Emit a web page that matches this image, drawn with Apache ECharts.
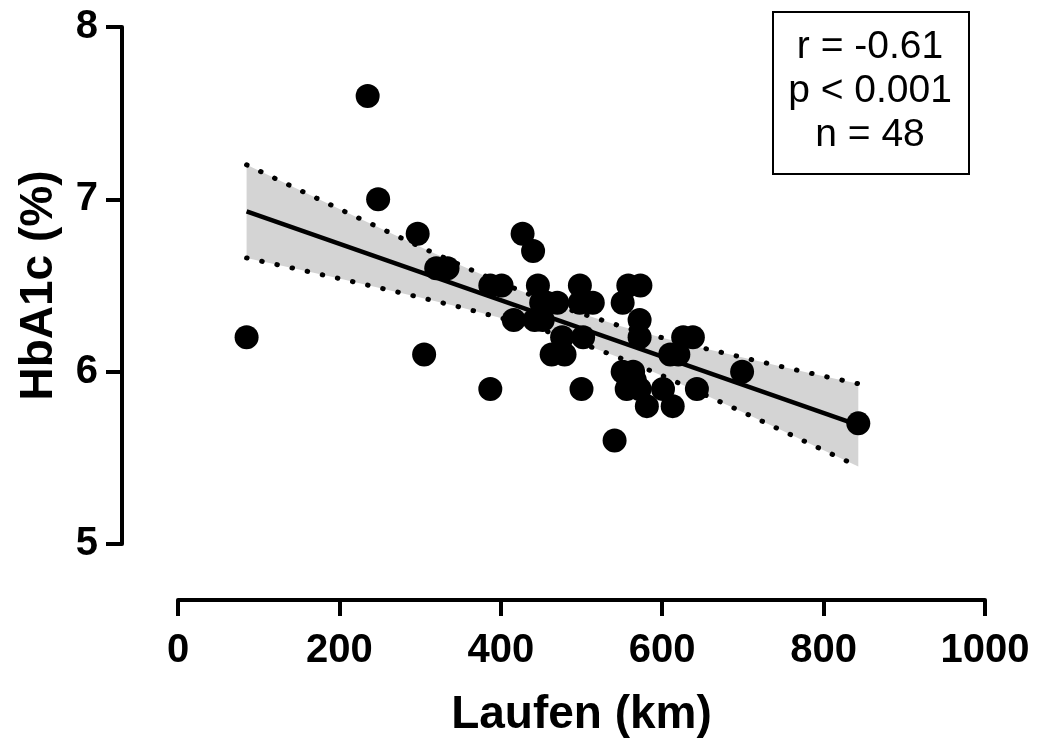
<!DOCTYPE html>
<html>

<head>
    <meta charset="UTF-8" />
    <script src="https://cdn.jsdelivr.net/npm/echarts@6/dist/echarts.min.js"></script>
</head>

<body style="margin: 0; overflow: hidden; background: #fff;">
    <div id="chart" style="width: 1038px; height: 749px;"></div>
    <script type="text/javascript">

        // Laufen (km) / HbA1c (%)
        const laufenKm = [85, 235, 248, 297, 305, 320, 334, 387, 387, 401, 416, 427, 440, 446, 442, 452,
            457, 470, 476, 463, 479, 498, 498, 514, 502, 500, 541, 558, 573, 551, 572, 572,
            551, 564, 556, 572, 581, 601, 613, 610, 620, 626, 638, 643, 699, 843, 450, 566];
        const hba1c = [6.2, 7.6, 7.0, 6.8, 6.1, 6.6, 6.6, 5.9, 6.5, 6.5, 6.3, 6.8, 6.7, 6.5, 6.3, 6.3,
            6.4, 6.4, 6.2, 6.1, 6.1, 6.5, 6.4, 6.4, 6.2, 5.9, 5.6, 6.5, 6.5, 6.4, 6.3, 6.2,
            6.0, 6.0, 5.9, 5.9, 5.8, 5.9, 5.8, 6.1, 6.1, 6.2, 6.2, 5.9, 6.0, 5.7, 6.4, 5.95];

        // regression line and 95% band
        const fitX = [85, 843];
        const fitY = [6.93, 5.69];
        const bandX = [85, 150, 200, 250, 300, 350, 400, 450, 489, 550, 600, 650, 700, 750, 800, 843];
        const bandUpper = [7.20, 7.055, 6.944, 6.834, 6.725, 6.618, 6.516, 6.421, 6.354, 6.262, 6.197, 6.138, 6.082, 6.027, 5.974, 5.93];
        const bandLower = [6.66, 6.593, 6.540, 6.486, 6.431, 6.374, 6.312, 6.245, 6.184, 6.076, 5.977, 5.872, 5.765, 5.655, 5.544, 5.45];

        const xTicks = [0, 200, 400, 600, 800, 1000];
        const yTicks = [5, 6, 7, 8];
        const statsLines = ['r = -0.61', 'p < 0.001', 'n = 48'];

        const font = "'Liberation Sans', Arial, sans-serif";

        const pairs = (xs, ys) => xs.map((x, i) => [x, ys[i]]);

        const myChart = echarts.init(document.getElementById('chart'));

        const axisCommon = {
            type: 'value',
            splitLine: { show: false },
            axisLine: { show: true, onZero: false, lineStyle: { color: '#000', width: 4 } },
            axisTick: { show: true, length: 16, lineStyle: { color: '#000', width: 4 } },
            nameLocation: 'middle',
            nameTextStyle: { color: '#000', fontSize: 46, fontWeight: 'bold', fontFamily: font }
        };

        const labelStyle = {
            color: '#000', fontSize: 40, fontWeight: 'bold', fontFamily: font,
            formatter: v => String(v)
        };

        const option = {
            animation: false,
            backgroundColor: '#fff',
            grid: { left: 178, top: 27, width: 807, height: 517 },
            xAxis: Object.assign({}, axisCommon, {
                min: xTicks[0],
                max: xTicks[xTicks.length - 1],
                interval: xTicks[1] - xTicks[0],
                offset: 56,
                name: 'Laufen (km)',
                nameGap: 92,
                axisLabel: Object.assign({}, labelStyle, { margin: 31 })
            }),
            yAxis: Object.assign({}, axisCommon, {
                min: yTicks[0],
                max: yTicks[yTicks.length - 1],
                interval: yTicks[1] - yTicks[0],
                offset: 56,
                name: 'HbA1c (%)',
                nameGap: 60,
                axisLabel: Object.assign({}, labelStyle, { margin: 24 })
            }),
            graphic: [
                {
                    type: 'rect',
                    left: 772, top: 11,
                    shape: { width: 196, height: 162 },
                    style: { fill: '#fff', stroke: '#000', lineWidth: 2 },
                    z: 10
                },
                {
                    type: 'text',
                    x: 870, y: 25,
                    style: {
                        text: statsLines.join('\n'),
                        textAlign: 'center',
                        fontSize: 39,
                        lineHeight: 44,
                        fontFamily: font,
                        fill: '#000'
                    },
                    z: 11
                }
            ],
            series: [
                {
                    // grey confidence band
                    type: 'custom',
                    z: 1,
                    silent: true,
                    data: [0],
                    renderItem: function (params, api) {
                        const pts = [];
                        bandX.forEach((x, i) => pts.push(api.coord([x, bandUpper[i]])));
                        for (let i = bandX.length - 1; i >= 0; i--) {
                            pts.push(api.coord([bandX[i], bandLower[i]]));
                        }
                        return {
                            type: 'polygon',
                            shape: { points: pts },
                            style: { fill: '#d4d4d4' }
                        };
                    }
                },
                {
                    type: 'line',
                    z: 2,
                    data: pairs(bandX, bandUpper),
                    showSymbol: false,
                    lineStyle: { color: '#000', width: 5, type: [0.5, 15], cap: 'round' }
                },
                {
                    type: 'line',
                    z: 2,
                    data: pairs(bandX, bandLower),
                    showSymbol: false,
                    lineStyle: { color: '#000', width: 5, type: [0.5, 15], cap: 'round' }
                },
                {
                    type: 'line',
                    z: 3,
                    data: pairs(fitX, fitY),
                    showSymbol: false,
                    lineStyle: { color: '#000', width: 4.5 }
                },
                {
                    type: 'scatter',
                    z: 4,
                    data: pairs(laufenKm, hba1c),
                    symbolSize: 24,
                    itemStyle: { color: '#000', opacity: 1 }
                }
            ]
        };

        myChart.setOption(option);

    </script>
</body>

</html>
